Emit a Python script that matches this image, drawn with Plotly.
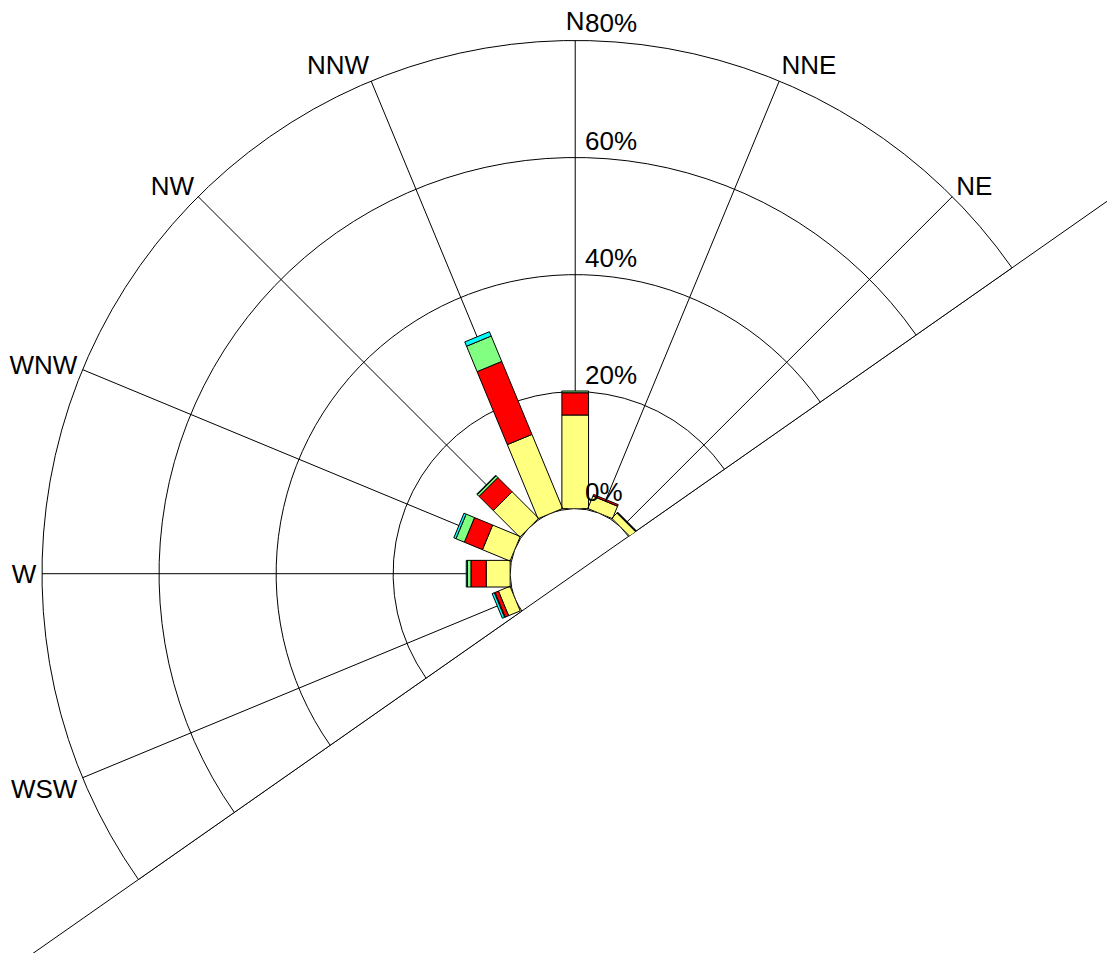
import math
import plotly.graph_objects as go

# ---------------- data ----------------
compass_labels = ["N", "NNE", "NE", "ENE", "E", "ESE", "SE", "SSE",
                  "S", "SSW", "SW", "WSW", "W", "WNW", "NW", "NNW"]
compass_angles = [i * 22.5 for i in range(16)]

bar_dirs = ["N", "NNE", "NE", "WSW", "W", "WNW", "NW", "NNW"]
seg_yellow = [16.0, 2.3, 1.25, 2.15, 4.1, 5.1, 6.4, 13.7]
seg_red = [3.8, 0.3, 0.1, 0.65, 2.6, 3.35, 3.45, 13.5]
seg_green = [0.3, 0.0, 0.05, 0.1, 0.6, 1.55, 0.4, 4.7]
seg_cyan = [0.0, 0.0, 0.05, 0.4, 0.2, 0.4, 0.15, 0.8]

radial_ticks = [0, 20, 40, 60, 80]
radial_ticktext = ["0%", "20%", "40%", "60%", "80%"]

# ---------------- style ----------------
RMAX = 80
HOLE = 0.122
HALF_W = 0.025          # half bar width, as fraction of outer radius
SECTOR = [35, 215]
FONT = "Liberation Sans, Arial, sans-serif"
FS = 26
series = [("Class 1", seg_yellow, "#FFFF80"),
          ("Class 2", seg_red, "#FF0000"),
          ("Class 3", seg_green, "#80FF80"),
          ("Class 4", seg_cyan, "#00FFFF")]


def rect(theta, v0, v1):
    """Corners of a straight-sided bar between values v0 and v1 (polar data units)."""
    rs, ts = [], []
    for v, s in [(v0, -1), (v1, -1), (v1, 1), (v0, 1)]:
        rho = HOLE + (1 - HOLE) * v / RMAX
        d = math.hypot(rho, HALF_W)
        off = math.degrees(math.atan2(HALF_W, rho))
        rs.append((d - HOLE) / (1 - HOLE) * RMAX)
        ts.append(theta + s * off)
    rs.append(rs[0])
    ts.append(ts[0])
    return rs, ts


fig = go.Figure()
base = [0.0] * len(bar_dirs)
for name, vals, color in series:
    R, T = [], []
    for i, d in enumerate(bar_dirs):
        v = vals[i]
        if v <= 0:
            continue
        th = compass_angles[compass_labels.index(d)]
        th = th - 360 if th > 180 else th
        rs, ts = rect(th, base[i], base[i] + v)
        R += rs + [None]
        T += ts + [None]
        base[i] += v
    fig.add_trace(go.Scatterpolar(
        r=R, theta=T, mode="lines", fill="toself", fillcolor=color,
        line=dict(color="black", width=1), name=name, showlegend=False,
        hoverinfo="skip"))

tick_angles = [a - 360 if a > 180 else a for a in compass_angles]

W, H = 1107, 945
ML, MR, MT, MB = 34, 103, 32, 73
fig.update_layout(
    width=W, height=H,
    margin=dict(l=ML, r=MR, t=MT, b=MB, pad=0),
    paper_bgcolor="white", plot_bgcolor="white",
    font=dict(family=FONT, size=FS, color="black"),
    polar=dict(
        bgcolor="white",
        sector=SECTOR,
        hole=HOLE,
        radialaxis=dict(
            range=[0, RMAX], angle=90, tickvals=radial_ticks,
            ticktext=radial_ticktext, showline=False, ticks="",
            showticklabels=False,
            gridcolor="black", gridwidth=1, layer="below traces"),
        angularaxis=dict(
            rotation=90, direction="clockwise", type="linear",
            tickvals=tick_angles, ticktext=compass_labels, ticks="",
            showgrid=True, gridcolor="black", gridwidth=1,
            showline=True, linecolor="black", linewidth=1,
            layer="below traces", tickfont=dict(size=FS)),
    ),
)

# polar geometry (pixels inside the plot area) for decorations
pw, ph = W - ML - MR, H - MT - MB
sx0, sx1 = -1.0, math.cos(math.radians(SECTOR[0]))
sy0, sy1 = math.sin(math.radians(SECTOR[1])), 1.0
rad = pw / (sx1 - sx0)
gap = (ph - rad * (sy1 - sy0)) / 2
cx = -sx0 * rad
cy = gap + sy1 * rad
inner = HOLE * rad

# radial tick labels, placed just above each circle to the right of the N axis
for v, txt in zip(radial_ticks, radial_ticktext):
    rpx = inner + v / RMAX * (rad - inner)
    fig.add_annotation(xref="paper", yref="paper",
                       x=(cx + 8) / pw, y=1 - (cy - rpx) / ph,
                       xanchor="left", yanchor="bottom", showarrow=False,
                       text=txt, font=dict(size=FS, family=FONT, color="black"))

# sector boundary line extended across the page
L = 1200
ang = math.radians(SECTOR[0])
fig.add_shape(type="line", xref="paper", yref="paper",
              x0=(cx - L * math.cos(ang)) / pw, y0=1 - (cy + L * math.sin(ang)) / ph,
              x1=(cx + L * math.cos(ang)) / pw, y1=1 - (cy - L * math.sin(ang)) / ph,
              line=dict(color="black", width=1), layer="below")

fig.write_html("out.html")
